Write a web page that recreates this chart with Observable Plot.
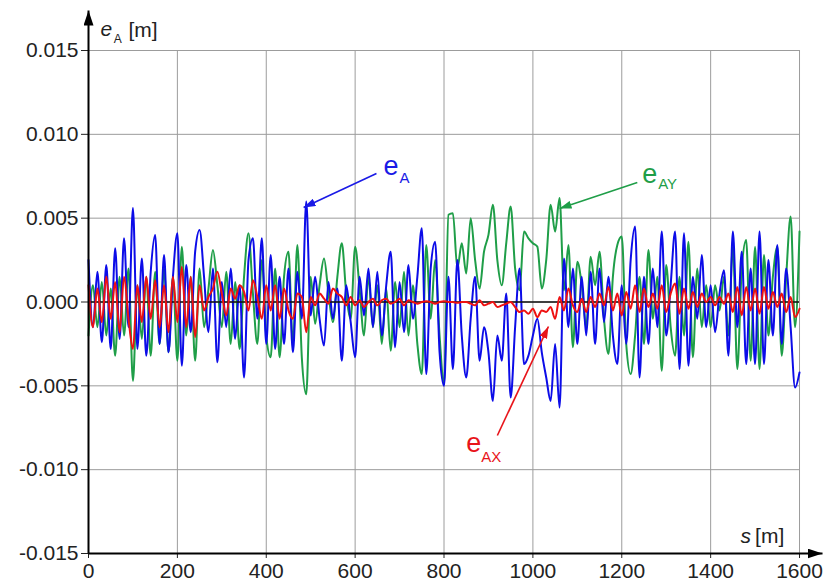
<!DOCTYPE html>
<html><head><meta charset="utf-8">
<script src="https://cdn.jsdelivr.net/npm/d3@7"></script>
<script src="https://cdn.jsdelivr.net/npm/@observablehq/plot@0.6"></script>
<style>body{margin:0;background:#fff}</style>
</head><body><div id="chart"></div>
<script>
// sampling step along s [m]
const sStep = 10;
// e_A [mm], s = 0..1600 every 10 m (one row per 100 m)
const eA_mm = [
  2.5,-1.5,1.8,-2.4,2.2,-2.8,3.2,-2.2,3.8,-1.5,
  5.6,-2.8,2.6,-3.2,1.8,4.0,-2.5,2.8,-3.0,1.5,
  4.1,-3.8,2.2,-1.8,3.0,4.3,1.5,-1.8,2.0,-3.6,
  1.2,-1.5,2.0,-2.2,1.0,-4.5,2.5,3.8,-1.0,3.8,
  -2.5,2.8,-2.8,1.5,-2.5,2.0,-3.0,1.8,-1.0,6.0,
  -0.8,1.5,-1.0,-2.6,1.2,-1.0,0.8,-3.5,1.0,-1.2,
  -3.3,1.5,-0.8,2.0,-1.5,1.8,-2.0,1.0,3.0,-2.7,
  1.2,-1.8,2.2,-1.0,1.5,4.4,-4.3,2.0,3.6,-3.0,
  -5.0,1.5,-4.0,2.5,-2.0,-4.5,-1.0,1.5,-3.5,-1.5,
  -3.0,-5.9,-2.0,-3.5,0.5,-5.7,-1.5,2.0,-3.7,-3.2,
  -2.0,-1.0,-3.0,-4.5,-5.9,-2.5,-6.3,2.6,-1.5,2.0,
  -2.5,1.5,-2.0,1.8,-2.5,2.0,-1.2,1.5,-2.0,-3.7,
  1.0,-2.5,2.5,4.5,-4.5,1.5,-2.5,2.0,-1.5,4.2,
  -2.0,1.0,4.2,-4.0,4.1,-3.8,1.5,-1.0,2.8,-1.5,
  1.0,-1.8,0.5,1.9,-3.2,4.2,-1.5,3.0,-3.7,2.0,
  -3.7,4.2,-3.7,2.5,-2.0,3.4,-2.5,2.0,-1.5,-5.1,
  -4.2
];
// e_AY [mm]
const eAY_mm = [
  -2.0,1.0,-1.5,1.2,-2.0,0.8,-3.2,1.5,-2.0,2.0,
  -4.7,1.0,-2.2,1.5,-3.2,1.8,-2.5,2.0,-3.0,1.5,
  -3.5,3.3,-2.0,1.5,-3.5,2.0,-1.5,0.8,3.1,1.0,
  -1.5,1.8,-2.5,1.2,-2.8,1.5,4.1,0.5,-2.5,2.5,
  -2.0,-3.3,2.0,-3.3,1.5,3.0,-2.5,3.4,-3.3,-5.5,
  1.5,-1.3,1.0,2.6,0.5,-1.2,1.5,3.5,0.5,-1.0,
  3.3,0.8,-2.0,1.5,-1.5,1.0,-2.5,0.8,-2.9,1.2,
  -1.5,1.8,-2.0,1.0,-2.5,-4.3,3.4,-1.0,2.5,-2.0,
  -4.9,5.2,5.3,2.0,3.5,1.7,5.0,2.5,0.8,3.0,
  4.0,5.8,2.5,1.0,3.5,5.7,2.0,0.7,4.2,3.8,
  3.5,3.3,0.8,2.5,5.8,4.2,6.2,0.7,3.4,-2.7,
  2.4,1.0,-1.5,2.7,1.0,3.0,-1.0,-3.1,1.5,3.4,
  3.9,-2.5,-4.3,-2.0,1.5,-2.5,3.1,-1.0,1.5,-4.1,
  2.2,-1.5,-3.2,1.5,-2.0,3.6,-3.3,2.0,-1.5,1.0,
  -1.5,1.0,-0.5,1.5,-2.0,3.3,-4.0,2.0,3.7,-3.5,
  3.3,-4.0,2.8,-2.0,1.5,3.3,-3.2,1.5,5.1,-1.5,
  4.2
];
// e_AX [mm]
const eAX_mm = [
  1.0,-1.5,0.8,-1.2,1.5,-1.0,1.2,-1.8,1.5,-1.0,
  -2.8,1.0,-1.2,1.5,-1.0,1.3,-1.5,1.0,-1.8,1.5,
  -1.2,2.1,-1.5,1.5,-2.1,1.0,-0.5,0.3,0.8,1.8,
  0.5,-0.8,0.8,0.2,1.0,0.6,-0.5,1.3,0.3,-1.0,
  1.0,-0.5,1.0,-1.0,0.8,-0.5,-1.0,0.5,0.3,-1.8,
  0.3,-0.2,0.5,0.2,-0.1,0.8,0.5,0.3,-0.2,0.3,
  -0.2,0.1,-0.3,0.0,0.2,-0.2,0.1,0.2,-0.1,0.0,
  0.2,-0.2,0.1,0.0,-0.1,0.0,0.05,0.0,-0.1,0.0,
  0.05,0.0,0.0,-0.05,0.0,0.0,-0.1,-0.2,0.1,-0.2,
  -0.1,0.0,-0.3,-0.2,-0.1,0.0,-0.3,-0.6,-0.5,-0.7,
  -0.4,-0.9,-0.5,-0.6,-0.3,-1.0,0.3,-0.5,0.8,-0.2,
  -0.6,0.2,-0.6,0.3,-0.3,0.5,-0.2,0.9,-0.5,0.5,
  -0.8,0.6,-0.4,1.0,-0.6,0.8,-0.3,0.5,-0.4,1.0,
  -0.6,0.5,1.1,-0.7,0.8,-0.4,0.6,-0.3,0.5,0.0,
  0.3,-0.2,0.3,-0.1,0.5,-0.6,0.9,-0.8,0.9,-0.5,
  0.8,-0.7,0.9,-0.4,0.6,-0.3,0.5,-0.6,0.3,-0.9,
  -0.4
];
const xTicks = [0, 200, 400, 600, 800, 1000, 1200, 1400, 1600];
const yTicks = [-0.015, -0.010, -0.005, 0, 0.005, 0.010, 0.015];

// text pieces (positions in data units)
const annotations = [
  {text: "e",   s: 27,     e: 0.015894,  size: 21, italic: true,  color: "#222"},
  {text: "A",   s: 57,     e: 0.015420,  size: 12, italic: false, color: "#222"},
  {text: "[m]", s: 90,     e: 0.015835,  size: 21, italic: false, color: "#222"},
  {text: "s",   s: 1467,   e: -0.014403, size: 21, italic: true,  color: "#222"},
  {text: "[m]", s: 1500,   e: -0.014403, size: 21, italic: false, color: "#222"},
  {text: "e",   s: 664,    e: 0.007545,  size: 27, italic: false, color: "#1a1ae6"},
  {text: "A",   s: 700,    e: 0.007127,  size: 15, italic: false, color: "#1a1ae6"},
  {text: "e",   s: 1246,   e: 0.007127,  size: 27, italic: false, color: "#1f9e48"},
  {text: "AY",  s: 1282,   e: 0.006710,  size: 15, italic: false, color: "#1f9e48"},
  {text: "e",   s: 850,    e: -0.008976, size: 27, italic: false, color: "#e8141a"},
  {text: "AX",  s: 884,    e: -0.009572, size: 15, italic: false, color: "#e8141a"}
];
const pointers = [
  {s1: 648,  e1: 0.007664,  s2: 484,  e2: 0.005636,  color: "#1a1ae6"},
  {s1: 1235, e1: 0.007127,  s2: 1060, e2: 0.005576,  color: "#1f9e48"},
  {s1: 920,  e1: -0.007962, s2: 1035, e2: -0.00146,  color: "#e8141a"}
];

const rows = eA_mm.map((v, i) => ({
  s: i * sStep, eA: v / 1000, eAY: eAY_mm[i] / 1000, eAX: eAX_mm[i] / 1000
}));

const xMax = 1651.7, yMax = 0.017386;
const font = "'Liberation Sans', Arial, sans-serif";

const chart = Plot.plot({
  width: 824, height: 582,
  marginLeft: 88, marginRight: 2, marginTop: 10, marginBottom: 29,
  x: {domain: [0, xMax]},
  y: {domain: [-0.015, yMax]},
  color: {type: "identity"},
  style: {fontFamily: font, fontSize: "20px", color: "#222", background: "#fff", overflow: "visible"},
  marks: [
    Plot.ruleX(xTicks, {y1: -0.015, y2: 0.015, stroke: "#9c9c9c", strokeWidth: 1}),
    Plot.ruleY(yTicks, {x1: 0, x2: 1600, stroke: "#9c9c9c", strokeWidth: 1}),
    Plot.line(rows, {x: "s", y: "eAY", stroke: "#1f9e48", strokeWidth: 2, curve: "monotone-x"}),
    Plot.line(rows, {x: "s", y: "eA", stroke: "#0c0ce8", strokeWidth: 2, curve: "monotone-x"}),
    Plot.ruleY([0], {x1: 0, x2: 1600, stroke: "#111", strokeWidth: 1.6}),
    Plot.line(rows, {x: "s", y: "eAX", stroke: "#ee1111", strokeWidth: 2, curve: "monotone-x"}),
    Plot.axisY({ticks: yTicks, tickFormat: d => d.toFixed(3), tickSize: 7, tickPadding: 3, label: null, fontSize: 21, fill: "#222", stroke: "#222"}),
    Plot.axisX({ticks: xTicks, tickFormat: d => String(d), tickSize: 5, tickPadding: 5, label: null, fontSize: 21, fill: "#222", stroke: "#222"}),
    Plot.link([{x1: 0, y1: -0.015, x2: 0, y2: yMax}], {x1: "x1", y1: "y1", x2: "x2", y2: "y2", stroke: "#000", strokeWidth: 2, markerEnd: "arrow"}),
    Plot.link([{x1: 0, y1: -0.015, x2: xMax, y2: -0.015}], {x1: "x1", y1: "y1", x2: "x2", y2: "y2", stroke: "#000", strokeWidth: 2, markerEnd: "arrow"}),
    Plot.link(pointers, {x1: "s1", y1: "e1", x2: "s2", y2: "e2", stroke: "color", strokeWidth: 1.6, markerEnd: "arrow"}),
    Plot.text(annotations.filter(d => d.italic), {x: "s", y: "e", text: "text", fill: "color", fontSize: "size", fontStyle: "italic", textAnchor: "start", lineAnchor: "bottom"}),
    Plot.text(annotations.filter(d => !d.italic), {x: "s", y: "e", text: "text", fill: "color", fontSize: "size", textAnchor: "start", lineAnchor: "bottom"})
  ]
});

// filled triangular arrow heads
d3.select(chart).selectAll("marker").each(function() {
  const m = d3.select(this);
  let c = m.attr("stroke");
  if (!c || c === "currentColor") c = "#000";
  const big = (c === "#000" || c === "black");
  const L = big ? 15 : 12, W = big ? 10 : 8;
  m.attr("viewBox", `${-L} ${-W / 2} ${L} ${W}`)
   .attr("markerUnits", "userSpaceOnUse")
   .attr("markerWidth", L).attr("markerHeight", W)
   .attr("refX", 0).attr("refY", 0)
   .attr("fill", c).attr("stroke", "none");
  m.selectAll("*").remove();
  m.append("path").attr("d", `M${-L},${-W / 2}L0,0L${-L},${W / 2}Z`);
});

document.getElementById("chart").appendChild(chart);
</script>
</body></html>
